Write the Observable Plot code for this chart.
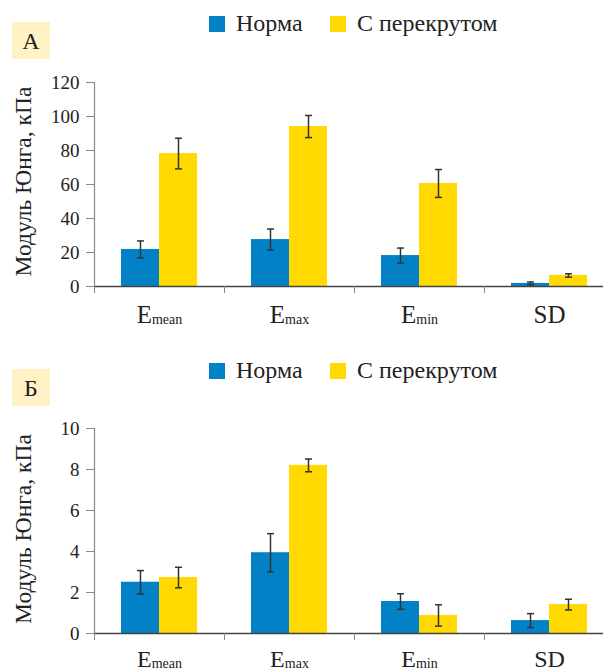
<!DOCTYPE html>
<html>
<head>
<meta charset="utf-8">
<script src="https://cdn.jsdelivr.net/npm/d3@7"></script>
<script src="https://cdn.jsdelivr.net/npm/@observablehq/plot@0.6"></script>
<style>
  html, body { margin: 0; padding: 0; background: #fff; }
  #root { position: relative; width: 603px; height: 671px; overflow: hidden; font-family: "Liberation Serif", "Tinos", "Times New Roman", "DejaVu Serif", serif; }
  .panel { position: absolute; left: 0; }
  #overlay { position: absolute; left: 0; top: 0; z-index: 5; }
  svg text { font-family: "Liberation Serif", "Tinos", "Times New Roman", "DejaVu Serif", serif !important; }
</style>
</head>
<body>
<div id="root"></div>
<script>
// ---- data ----
const catMain = ["E", "E", "E", "SD"];
const catSub = ["mean", "max", "min", ""];
const seriesNames = ["Норма", "С перекрутом"];
const seriesColors = ["#0281C6", "#FFD900"];
const yLabel = "Модуль Юнга, кПа";

// Panel A
const aNorm = [21.8, 27.6, 18.2, 1.8];
const aNormErr = [5.0, 6.2, 4.4, 0.8];
const aTwist = [78.2, 94.1, 60.6, 6.5];
const aTwistErr = [9.0, 6.5, 8.2, 1.0];
const aTicks = [0, 20, 40, 60, 80, 100, 120];

// Panel B
const bNorm = [2.5, 3.94, 1.56, 0.63];
const bNormErr = [0.57, 0.93, 0.38, 0.34];
const bTwist = [2.73, 8.2, 0.88, 1.41];
const bTwistErr = [0.5, 0.31, 0.52, 0.26];
const bTicks = [0, 2, 4, 6, 8, 10];

const FONT = '"Liberation Serif", "Tinos", "Times New Roman", "DejaVu Serif", serif';
const BAR = 38 / 130;   // bar width as fraction of a category
const CAP = 3.5 / 130;  // half cap width

function makePanel(norm, normErr, twist, twistErr, ticks, height, marginTop, marginBottom, labelDy, catDy, catSize) {
  const rows = [];
  catMain.forEach((c, i) => {
    rows.push({i, s: 0, v: norm[i], e: normErr[i]});
    rows.push({i, s: 1, v: twist[i], e: twistErr[i]});
  });
  const center = d => d.i + 0.5 + (d.s ? 1 : -1) * BAR / 2;
  const yMax = ticks[ticks.length - 1];
  const svg = Plot.plot({
    width: 603,
    height,
    marginTop,
    marginBottom,
    marginLeft: 94,
    marginRight: 0,
    style: {fontFamily: FONT, fontSize: "19px", color: "#222", background: "transparent", overflow: "visible"},
    x: {domain: [0, 4], range: [94, 614]},
    y: {domain: [0, yMax]},
    marks: [
      Plot.rectY(rows, {
        x1: d => d.i + 0.5 + (d.s ? 0 : -BAR),
        x2: d => d.i + 0.5 + (d.s ? BAR : 0),
        y1: 0, y2: d => d.v,
        fill: d => seriesColors[d.s]
      }),
      Plot.ruleX(rows, {x: center, y1: d => d.v - d.e, y2: d => d.v + d.e, stroke: "#333", strokeWidth: 1.5}),
      Plot.link(rows, {x1: d => center(d) - CAP, x2: d => center(d) + CAP, y1: d => d.v + d.e, y2: d => d.v + d.e, stroke: "#333", strokeWidth: 1.5}),
      Plot.link(rows, {x1: d => center(d) - CAP, x2: d => center(d) + CAP, y1: d => d.v - d.e, y2: d => d.v - d.e, stroke: "#333", strokeWidth: 1.5}),
      Plot.ruleX([0], {y1: 0, y2: yMax, stroke: "#888", strokeWidth: 1.2}),
      Plot.ruleY([0], {stroke: "#444", strokeWidth: 1.3}),
      Plot.axisY({ticks, tickSize: 8, tickPadding: 7, stroke: "#888", fill: "#222", fontSize: 19}),
      Plot.axisX({ticks: [0, 1, 2, 3], tickSize: 7, tickFormat: () => "", stroke: "#888"}),
      Plot.text(catMain, {x: (d, i) => i + 0.5, y: () => 0, text: d => d, dy: catDy, fontSize: catSize, fill: "#222", ariaDescription: "catlabels"}),
      Plot.text([yLabel], {frameAnchor: "left", textAnchor: "middle", rotate: -90, dx: -71, dy: labelDy, fontSize: 23.5, fill: "#222"})
    ]
  });
  d3.select(svg).selectAll('g[aria-description="catlabels"] text').each(function(_, k) {
    const sub = catSub[k];
    if (sub) {
      const t = d3.select(this);
      t.text(catMain[k]);
      t.append("tspan").attr("font-size", 14).attr("dy", 1).text(sub);
    }
  });
  return svg;
}

const root = document.getElementById("root");

const a = makePanel(aNorm, aNormErr, aTwist, aTwistErr, aTicks, 300, 42, 54, -3, 28, 25);
const wa = document.createElement("div"); wa.className = "panel"; wa.style.top = "40px"; wa.appendChild(a); root.appendChild(wa);

const b = makePanel(bNorm, bNormErr, bTwist, bTwistErr, bTicks, 281, 38, 38, -2, 26, 24);
const wb = document.createElement("div"); wb.className = "panel"; wb.style.top = "390px"; wb.appendChild(b); root.appendChild(wb);

// overlay: panel letters and legends
const panelsMeta = [
  {letter: "А", boxY: 22, legY: 16},
  {letter: "Б", boxY: 369, legY: 363}
];
const ov = d3.select(root).append("svg").attr("id", "overlay").attr("width", 603).attr("height", 671)
  .style("font-family", FONT);
panelsMeta.forEach(p => {
  ov.append("rect").attr("x", 12).attr("y", p.boxY).attr("width", 38).attr("height", 37).attr("fill", "#FFF2C4");
  ov.append("text").attr("x", 31).attr("y", p.boxY + 27).attr("text-anchor", "middle").attr("font-size", 24).attr("fill", "#222").text(p.letter);
  const legX = [209, 330];
  seriesNames.forEach((name, s) => {
    ov.append("rect").attr("x", legX[s]).attr("y", p.legY).attr("width", 16).attr("height", 16).attr("fill", seriesColors[s]);
    ov.append("text").attr("x", legX[s] + 27).attr("y", p.legY + 15).attr("font-size", 24).attr("fill", "#222").text(name);
  });
});
</script>
</body>
</html>
